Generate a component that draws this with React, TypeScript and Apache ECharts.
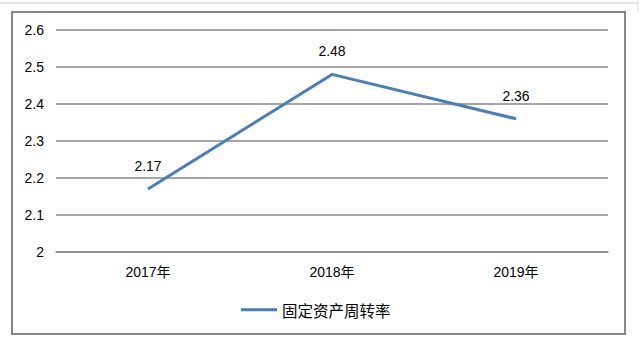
import React, { useEffect, useRef } from "react";
import * as echarts from "echarts";

const categories = ["2017年", "2018年", "2019年"];
const turnoverValues = [2.17, 2.48, 2.36];
const seriesName = "固定资产周转率";

export default function App() {
  const ref = useRef<HTMLDivElement>(null);
  useEffect(() => {
    if (!ref.current) return;
    const chart = echarts.init(ref.current, null, { renderer: "svg" });
    const font = "'Liberation Sans', 'Noto Sans CJK SC', sans-serif";
    chart.setOption({
      animation: false,
      backgroundColor: "#fff",
      textStyle: { fontFamily: font },
      graphic: [
        { type: "line", shape: { x1: 0, y1: 3, x2: 638, y2: 3 }, style: { stroke: "#d9d9d9", lineWidth: 1.5 } },
        { type: "line", shape: { x1: 638, y1: 0, x2: 638, y2: 12 }, style: { stroke: "#d9d9d9", lineWidth: 1 } },
        { type: "rect", shape: { x: 12, y: 12, width: 613, height: 322 }, style: { fill: "none", stroke: "#878787", lineWidth: 2 } },
      ],
      grid: { left: 56, right: 34, top: 30, bottom: 89 },
      legend: {
        top: 302,
        left: 241,
        padding: 0,
        itemWidth: 36,
        itemHeight: 14,
        itemGap: 5,
        icon: "path://M0,6 L36,6 L36,9 L0,9 Z",
        textStyle: { fontSize: 15.5, color: "#000", fontFamily: "'Noto Sans CJK SC', sans-serif" },
        data: [seriesName],
      },
      xAxis: {
        type: "category",
        data: categories,
        boundaryGap: true,
        axisLine: { show: true, lineStyle: { color: "#898989", width: 1.5 } },
        axisTick: { show: false },
        axisLabel: { fontSize: 14, color: "#000", margin: 13, fontFamily: font },
      },
      yAxis: {
        type: "value",
        min: 2,
        max: 2.6,
        interval: 0.1,
        axisLine: { show: false },
        axisTick: { show: false },
        splitLine: { show: true, lineStyle: { color: "#898989", width: 1.5 } },
        axisLabel: { fontSize: 14, color: "#000", margin: 12, fontFamily: font },
      },
      series: [
        {
          name: seriesName,
          type: "line",
          data: turnoverValues,
          symbol: "circle",
          symbolSize: 0,
          showSymbol: true,
          lineStyle: { color: "#4A7EBB", width: 3 },
          itemStyle: { color: "#4A7EBB" },
          label: {
            show: true,
            position: "top",
            distance: 16,
            fontSize: 14,
            color: "#000",
            fontFamily: font,
          },
        },
      ],
    });
    return () => chart.dispose();
  }, []);
  return (
    <div
      ref={ref}
      style={{ position: "fixed", left: 0, top: 0, width: 642, height: 341 }}
    />
  );
}
